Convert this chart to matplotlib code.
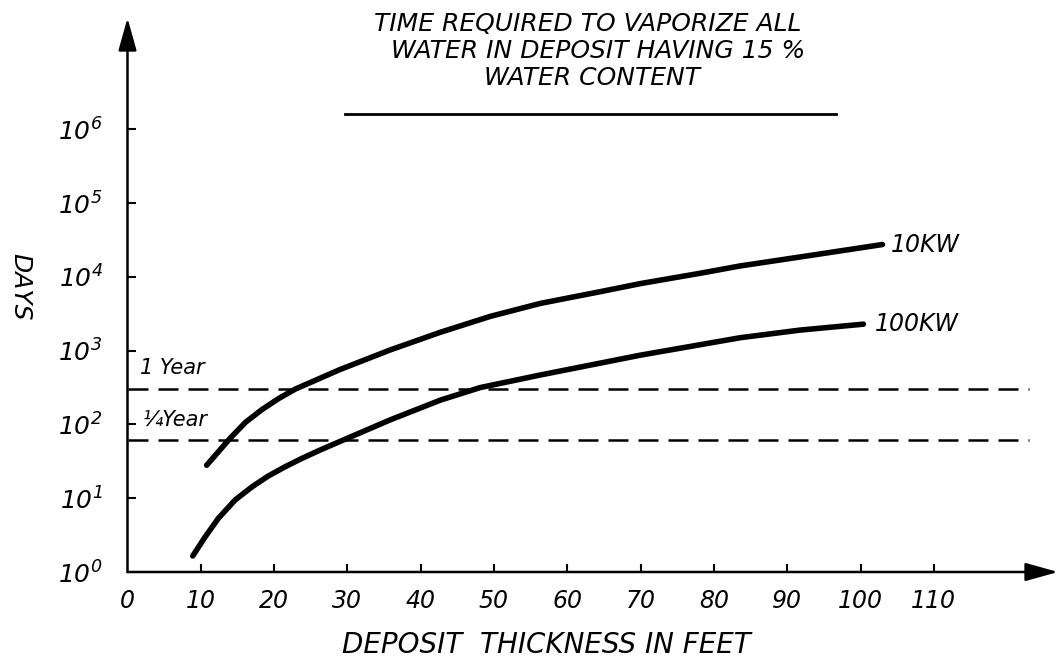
import numpy as np
import matplotlib.pyplot as plt
from matplotlib.lines import Line2D
from matplotlib.ticker import NullLocator

# values (thickness in feet, time in days)
thickness_10kw = [10.8, 14.0, 16.1, 18.3, 20.6, 22.9, 25.2, 29.0, 35.8, 42.7, 49.5,
                  56.3, 64.5, 70.0, 78.1, 83.6, 91.7, 103.0]
days_10kw = [28, 65, 107, 158, 224, 302, 380, 556, 1020, 1780, 2920,
             4370, 6310, 8130, 11200, 14100, 18600, 27500]

thickness_100kw = [8.9, 10.6, 12.4, 14.7, 17.0, 19.2, 21.5, 23.8, 26.1, 28.3, 35.8,
                   42.7, 48.1, 56.3, 70.0, 83.6, 91.7, 100.4]
days_100kw = [1.65, 3.0, 5.35, 9.5, 14.3, 20.0, 26.7, 34.7, 44.2, 55, 115,
              214, 316, 468, 871, 1500, 1900, 2290]

one_year_days = 300
quarter_year_days = 61
ref_line_end = 123

x_ticks = [0, 10, 20, 30, 40, 50, 60, 70, 80, 90, 100, 110]
y_exponents = [0, 1, 2, 3, 4, 5, 6]

W, H = 1060, 663


def fx(px):
  return px / W


def fy(py):
  return 1 - py / H


plt.rcParams['mathtext.fontset'] = 'custom'
plt.rcParams['mathtext.rm'] = 'DejaVu Sans:italic'
plt.rcParams['mathtext.it'] = 'DejaVu Sans:italic'

fig = plt.figure(figsize=(W / 100, H / 100), dpi=100)
ax = fig.add_axes([fx(127.5), fy(572), (1058 - 127.5) / W, (572 - 18) / H])
ax.set_yscale('log')
ax.set_xlim(0, (1058 - 127.5) / 7.33)
ax.set_ylim(1, 10 ** 7.51)
for s in ax.spines.values():
  s.set_visible(False)

# curves
curve = dict(color='black', lw=4, solid_capstyle='round', solid_joinstyle='round')
ax.plot(thickness_10kw, days_10kw, **curve)
ax.plot(thickness_100kw, days_100kw, **curve)
ax.text(thickness_10kw[-1] + 1.2, days_10kw[-1], '10KW', fontsize=17, style='italic',
        ha='left', va='center')
ax.text(thickness_100kw[-1] + 1.6, days_100kw[-1], '100KW', fontsize=17, style='italic',
        ha='left', va='center')

# reference levels
for level in [one_year_days, quarter_year_days]:
  ax.hlines(level, 0, ref_line_end, color='black', lw=1.8, linestyles=(0, (8, 4)))

# axes with arrow heads
arrow = dict(arrowstyle='-|>,head_length=1.0,head_width=0.28', lw=1.8, color='black',
             mutation_scale=20, shrinkA=0, shrinkB=0)
ax.annotate('', xy=(1, 0), xytext=(0, 0), xycoords='axes fraction', arrowprops=arrow,
            annotation_clip=False)
ax.annotate('', xy=(0, 1), xytext=(0, 0), xycoords='axes fraction', arrowprops=arrow,
            annotation_clip=False)

# ticks
ax.set_xticks(x_ticks)
ax.set_xticklabels([str(t) for t in x_ticks])
ax.tick_params(axis='x', direction='in', length=6, width=1.5, pad=12, labelsize=17)
ax.xaxis.get_major_ticks()[0].tick1line.set_visible(False)
for lbl in ax.get_xticklabels():
  lbl.set_fontstyle('italic')

ax.set_yticks([10.0 ** e for e in y_exponents])
ax.set_yticklabels([r'$10^{%d}$' % e for e in y_exponents])
ax.yaxis.set_minor_locator(NullLocator())
ax.tick_params(axis='y', direction='in', length=6, width=1.5, pad=18, labelsize=18)
ax.yaxis.get_major_ticks()[0].tick1line.set_visible(False)

# labels
fig.text(fx(20), fy(287), 'DAYS', rotation=270, fontsize=18, style='italic',
         ha='center', va='center')
fig.text(fx(546), fy(645), 'DEPOSIT  THICKNESS IN FEET', fontsize=20, style='italic',
         ha='center', va='center')
fig.text(fx(140), fy(368), '1 Year', fontsize=15, style='italic', ha='left', va='center')
fig.text(fx(143), fy(420), '\u00bcYear', fontsize=15, style='italic', ha='left', va='center')

# title block
title_lines = ['TIME REQUIRED TO VAPORIZE ALL', 'WATER IN DEPOSIT HAVING 15 %', 'WATER CONTENT']
for text, cx, cy in zip(title_lines, [588, 598, 592], [24, 51, 78]):
  fig.text(fx(cx), fy(cy), text, fontsize=18, style='italic', ha='center', va='center')
fig.add_artist(Line2D([fx(345), fx(836)], [fy(113.5), fy(113.5)], lw=2, color='black'))

fig.savefig('out.png', dpi=100)
